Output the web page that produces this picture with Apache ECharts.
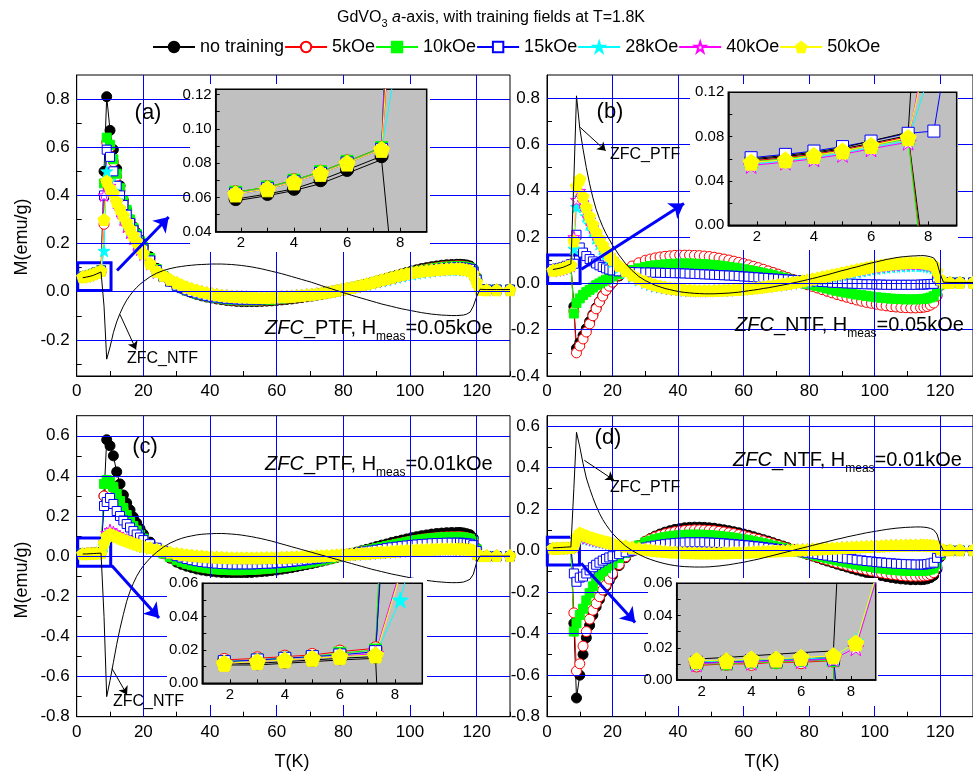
<!DOCTYPE html>
<html>
<head>
<meta charset="utf-8">
<script src="https://cdn.jsdelivr.net/npm/echarts@6/dist/echarts.min.js"></script>
<style>
  html, body { margin: 0; padding: 0; background: #fff; }
  #chart { width: 973px; height: 778px; }
</style>
</head>
<body>
<div id="chart"></div>
<script>
// temperature points (K), shared by every curve
var T = [1.8,3,4,5,6,7.3,8.2,9,10,11,12,13,14,15,16,17,18,19,20,22,24,26,28,
  30,31.5,33,34.5,36,37.5,39,40.5,42,43.5,45,46.5,48,49.5,51,52.5,54,55.5,57,58.5,60,61.5,63,64.5,66,67.5,69,70.5,
  72,73.5,75,76.5,78,79.5,81,82.5,84,85.5,87,88.5,90,91.5,93,94.5,96,97.5,99,100.5,102,103.5,105,106.5,108,109.5,111,112.5,114,
  115,116,117,118,119,120,121,123,126,130];

// (a) ZFC_PTF, Hmeas = 0.05 kOe
var aRef  = [0.058,0.061,0.064,0.068,0.074,0.082,-0.06,-0.28,-0.23,-0.17,-0.125,-0.09,-0.06,-0.035,-0.015,0.003,0.018,0.031,0.042,0.062,0.077,0.088,0.096,
  0.102,0.105,0.108,0.110,0.112,0.113,0.114,0.115,0.115,0.115,0.114,0.113,0.111,0.109,0.106,0.103,0.099,0.095,0.09,0.085,0.08,0.075,0.069,0.063,0.057,0.051,0.045,0.039,0.032,0.025,0.018,0.012,0.005,-0.002,-0.008,-0.015,-0.021,-0.027,-0.033,-0.039,-0.045,-0.051,-0.056,-0.061,-0.066,-0.071,-0.075,-0.079,-0.083,-0.087,-0.09,-0.093,-0.095,-0.097,-0.098,-0.099,-0.099,
  -0.098,-0.097,-0.093,-0.085,-0.06,-0.02,0.01,0.009,0.009,0.009];
var aNone = [0.059,0.062,0.065,0.070,0.076,0.084,0.5,0.81,0.67,0.59,0.51,0.44,0.38,0.34,0.30,0.27,0.245,0.215,0.19,0.145,0.097,0.066,0.044,
  0.025,0.014,0.004,-0.004,-0.011,-0.017,-0.022,-0.026,-0.03,-0.033,-0.036,-0.038,-0.04,-0.041,-0.041,-0.041,-0.041,-0.04,-0.039,-0.038,-0.036,-0.034,-0.032,-0.03,-0.027,-0.024,-0.021,-0.018,-0.014,-0.01,-0.006,-0.002,0.002,0.006,0.011,0.016,0.021,0.026,0.032,0.038,0.044,0.05,0.056,0.062,0.068,0.074,0.08,0.086,0.091,0.096,0.1,0.104,0.107,0.11,0.112,0.113,0.114,
  0.114,0.113,0.111,0.107,0.095,0.06,0.012,0.009,0.009,0.009];
var a5    = [0.063,0.066,0.070,0.075,0.081,0.089,0.28,0.62,0.6,0.54,0.48,0.42,0.37,0.33,0.29,0.26,0.235,0.205,0.18,0.135,0.092,0.064,0.043,
  0.025,0.015,0.005,-0.002,-0.009,-0.014,-0.019,-0.023,-0.027,-0.03,-0.033,-0.035,-0.036,-0.037,-0.037,-0.037,-0.037,-0.036,-0.035,-0.034,-0.032,-0.03,-0.028,-0.026,-0.023,-0.021,-0.018,-0.015,-0.012,-0.009,-0.005,-0.001,0.003,0.007,0.011,0.015,0.02,0.025,0.03,0.035,0.041,0.047,0.053,0.058,0.064,0.07,0.075,0.08,0.085,0.09,0.094,0.098,0.101,0.104,0.106,0.107,0.108,
  0.108,0.107,0.105,0.101,0.09,0.055,0.011,0.009,0.009,0.009];
var a10   = [0.063,0.066,0.070,0.075,0.081,0.089,0.45,0.64,0.61,0.55,0.49,0.43,0.38,0.34,0.3,0.265,0.24,0.21,0.185,0.14,0.094,0.065,0.043,
  0.025,0.015,0.005,-0.002,-0.009,-0.014,-0.019,-0.023,-0.026,-0.029,-0.032,-0.034,-0.035,-0.036,-0.036,-0.036,-0.036,-0.035,-0.034,-0.033,-0.031,-0.029,-0.027,-0.025,-0.022,-0.02,-0.017,-0.014,-0.011,-0.008,-0.004,0.0,0.003,0.007,0.011,0.015,0.02,0.025,0.03,0.035,0.041,0.046,0.052,0.057,0.063,0.068,0.074,0.079,0.084,0.088,0.092,0.096,0.099,0.102,0.104,0.105,0.106,
  0.106,0.105,0.103,0.099,0.088,0.052,0.011,0.009,0.009,0.009];
var a15   = [0.062,0.065,0.069,0.074,0.080,0.088,0.4,0.59,0.56,0.5,0.44,0.4,0.36,0.32,0.285,0.255,0.23,0.2,0.175,0.13,0.09,0.062,0.042,
  0.025,0.015,0.006,-0.001,-0.007,-0.012,-0.017,-0.021,-0.024,-0.027,-0.029,-0.031,-0.032,-0.033,-0.033,-0.033,-0.033,-0.032,-0.031,-0.03,-0.029,-0.027,-0.025,-0.023,-0.021,-0.019,-0.016,-0.013,-0.01,-0.007,-0.003,0.0,0.004,0.008,0.012,0.016,0.02,0.025,0.03,0.035,0.04,0.045,0.05,0.055,0.061,0.066,0.071,0.076,0.08,0.084,0.088,0.091,0.094,0.097,0.099,0.1,0.101,
  0.101,0.1,0.098,0.095,0.084,0.05,0.01,0.009,0.009,0.009];
var a28   = [0.062,0.065,0.069,0.074,0.080,0.088,0.17,0.5,0.46,0.42,0.38,0.345,0.31,0.28,0.25,0.225,0.2,0.18,0.16,0.118,0.082,0.066,0.05,
  0.036,0.027,0.018,0.011,0.005,0.0,-0.005,-0.009,-0.012,-0.015,-0.017,-0.019,-0.02,-0.021,-0.022,-0.023,-0.023,-0.023,-0.023,-0.023,-0.022,-0.021,-0.02,-0.019,-0.017,-0.015,-0.013,-0.011,-0.008,-0.005,-0.002,0.001,0.005,0.009,0.013,0.017,0.021,0.025,0.03,0.035,0.04,0.045,0.05,0.055,0.06,0.065,0.069,0.073,0.077,0.08,0.083,0.086,0.088,0.09,0.091,0.092,0.092,
  0.092,0.091,0.089,0.086,0.075,0.045,0.01,0.008,0.008,0.008];
var a40   = [0.062,0.065,0.069,0.074,0.080,0.088,0.4,0.45,0.44,0.41,0.37,0.335,0.3,0.27,0.245,0.22,0.195,0.175,0.155,0.115,0.08,0.066,0.051,
  0.037,0.028,0.019,0.012,0.006,0.001,-0.004,-0.008,-0.011,-0.014,-0.016,-0.018,-0.019,-0.02,-0.021,-0.022,-0.022,-0.022,-0.022,-0.022,-0.021,-0.02,-0.019,-0.018,-0.016,-0.014,-0.012,-0.01,-0.007,-0.005,-0.002,0.001,0.005,0.009,0.013,0.017,0.022,0.027,0.032,0.037,0.043,0.048,0.054,0.059,0.065,0.07,0.075,0.079,0.082,0.085,0.087,0.089,0.091,0.093,0.094,0.095,0.095,
  0.095,0.093,0.091,0.087,0.075,0.042,0.01,0.008,0.008,0.008];
var a50   = [0.062,0.065,0.069,0.074,0.080,0.088,0.3,0.46,0.43,0.41,0.375,0.345,0.318,0.29,0.262,0.235,0.21,0.183,0.16,0.118,0.085,0.068,0.052,
  0.038,0.029,0.02,0.013,0.007,0.001,-0.004,-0.008,-0.012,-0.015,-0.017,-0.019,-0.02,-0.021,-0.022,-0.023,-0.024,-0.024,-0.024,-0.023,-0.022,-0.021,-0.02,-0.019,-0.017,-0.015,-0.013,-0.011,-0.008,-0.005,-0.002,0.002,0.006,0.01,0.014,0.018,0.023,0.028,0.033,0.038,0.044,0.05,0.055,0.06,0.066,0.071,0.076,0.08,0.083,0.086,0.088,0.09,0.092,0.094,0.095,0.096,0.096,
  0.096,0.094,0.092,0.088,0.075,0.04,0.01,0.008,0.008,0.008];

// (b) ZFC_NTF, Hmeas = 0.05 kOe
var bRef  = [0.06,0.063,0.066,0.07,0.076,0.084,0.45,0.81,0.67,0.58,0.5,0.43,0.37,0.32,0.28,0.245,0.215,0.19,0.165,0.122,0.085,0.055,0.03,
  0.012,0.002,-0.008,-0.015,-0.022,-0.027,-0.032,-0.036,-0.039,-0.041,-0.043,-0.044,-0.045,-0.045,-0.045,-0.044,-0.043,-0.042,-0.04,-0.038,-0.035,-0.032,-0.029,-0.026,-0.022,-0.019,-0.015,-0.011,-0.007,-0.003,0.002,0.006,0.011,0.016,0.021,0.026,0.032,0.037,0.043,0.049,0.055,0.06,0.066,0.071,0.077,0.083,0.088,0.093,0.098,0.103,0.107,0.111,0.114,0.116,0.118,0.119,0.12,
  0.12,0.118,0.115,0.11,0.09,0.04,0.005,0.004,0.004,0.004];
var bNone = [0.059,0.062,0.065,0.069,0.074,0.081,-0.1,-0.28,-0.255,-0.225,-0.195,-0.165,-0.135,-0.105,-0.078,-0.053,-0.03,-0.012,0.004,0.032,0.054,0.07,0.083,
  0.094,0.1,0.104,0.108,0.111,0.113,0.115,0.116,0.117,0.117,0.116,0.115,0.113,0.111,0.108,0.105,0.101,0.097,0.092,0.087,0.082,0.077,0.071,0.065,0.058,0.052,0.045,0.038,0.031,0.024,0.017,0.01,0.003,-0.004,-0.011,-0.018,-0.025,-0.032,-0.038,-0.044,-0.05,-0.056,-0.062,-0.068,-0.073,-0.078,-0.082,-0.086,-0.09,-0.094,-0.097,-0.099,-0.101,-0.102,-0.103,-0.103,-0.102,
  -0.1,-0.097,-0.09,-0.08,-0.05,-0.005,0.005,0.004,0.004,0.004];
var b5    = [0.058,0.061,0.064,0.068,0.073,0.08,-0.12,-0.3,-0.27,-0.24,-0.21,-0.175,-0.14,-0.11,-0.08,-0.055,-0.03,-0.012,0.005,0.035,0.058,0.075,0.089,
  0.1,0.105,0.11,0.114,0.117,0.119,0.121,0.122,0.122,0.122,0.121,0.12,0.118,0.116,0.113,0.109,0.105,0.101,0.096,0.091,0.086,0.08,0.074,0.068,0.061,0.054,0.047,0.04,0.032,0.025,0.017,0.01,0.002,-0.006,-0.013,-0.02,-0.027,-0.034,-0.041,-0.048,-0.054,-0.06,-0.066,-0.072,-0.077,-0.082,-0.086,-0.09,-0.094,-0.097,-0.1,-0.102,-0.104,-0.105,-0.106,-0.106,-0.105,
  -0.103,-0.1,-0.094,-0.085,-0.055,-0.01,0.005,0.004,0.004,0.004];
var b10   = [0.057,0.06,0.063,0.067,0.072,0.078,-0.13,-0.085,-0.065,-0.05,-0.038,-0.028,-0.018,-0.008,0.0,0.008,0.016,0.023,0.03,0.041,0.05,0.058,0.065,
  0.071,0.075,0.078,0.08,0.082,0.084,0.085,0.086,0.086,0.086,0.085,0.084,0.083,0.081,0.079,0.077,0.074,0.071,0.068,0.065,0.061,0.057,0.053,0.049,0.044,0.04,0.035,0.03,0.025,0.02,0.014,0.009,0.004,-0.002,-0.007,-0.012,-0.017,-0.022,-0.027,-0.032,-0.036,-0.04,-0.044,-0.048,-0.051,-0.054,-0.057,-0.06,-0.062,-0.064,-0.066,-0.067,-0.068,-0.069,-0.069,-0.069,-0.068,
  -0.067,-0.065,-0.061,-0.055,-0.035,-0.005,0.004,0.004,0.004,0.004];
var b15   = [0.061,0.064,0.067,0.071,0.076,0.083,0.085,0.21,0.155,0.133,0.118,0.105,0.095,0.086,0.078,0.071,0.065,0.06,0.056,0.052,0.05,0.049,0.048,
  0.047,0.047,0.046,0.046,0.045,0.045,0.044,0.044,0.043,0.042,0.041,0.04,0.039,0.038,0.037,0.036,0.035,0.034,0.033,0.032,0.03,0.029,0.027,0.026,0.024,0.023,0.021,0.02,0.018,0.017,0.015,0.014,0.012,0.011,0.009,0.008,0.006,0.005,0.003,0.002,0.001,0.0,-0.001,-0.002,-0.003,-0.004,-0.004,-0.005,-0.005,-0.006,-0.006,-0.006,-0.006,-0.006,-0.006,-0.006,-0.005,
  -0.005,-0.004,-0.003,-0.002,0.025,0.01,0.004,0.004,0.004,0.004];
var b28   = [0.055,0.058,0.061,0.065,0.07,0.076,0.15,0.33,0.37,0.33,0.29,0.255,0.225,0.195,0.17,0.148,0.128,0.11,0.094,0.068,0.046,0.028,0.014,
  0.003,-0.005,-0.012,-0.016,-0.02,-0.023,-0.026,-0.028,-0.03,-0.031,-0.032,-0.032,-0.032,-0.032,-0.031,-0.03,-0.029,-0.028,-0.026,-0.025,-0.023,-0.021,-0.019,-0.017,-0.015,-0.013,-0.01,-0.008,-0.005,-0.003,0.0,0.003,0.006,0.009,0.013,0.017,0.021,0.025,0.029,0.033,0.037,0.041,0.045,0.049,0.053,0.057,0.06,0.063,0.066,0.069,0.071,0.073,0.074,0.075,0.076,0.076,0.076,
  0.075,0.073,0.07,0.066,0.045,0.015,0.004,0.004,0.004,0.004];
var b40   = [0.054,0.057,0.06,0.064,0.069,0.075,0.2,0.36,0.4,0.35,0.31,0.275,0.242,0.212,0.186,0.162,0.14,0.121,0.104,0.076,0.053,0.034,0.019,
  0.007,-0.001,-0.008,-0.013,-0.018,-0.022,-0.025,-0.027,-0.029,-0.031,-0.032,-0.033,-0.033,-0.033,-0.032,-0.031,-0.03,-0.029,-0.027,-0.026,-0.024,-0.022,-0.02,-0.018,-0.015,-0.013,-0.01,-0.007,-0.004,-0.001,0.002,0.005,0.009,0.013,0.017,0.021,0.025,0.03,0.034,0.038,0.043,0.047,0.052,0.056,0.06,0.064,0.067,0.07,0.073,0.076,0.078,0.08,0.082,0.083,0.084,0.084,0.084,
  0.083,0.081,0.078,0.074,0.05,0.018,0.004,0.004,0.004,0.004];
var b50   = [0.057,0.059,0.063,0.067,0.072,0.079,0.183,0.42,0.45,0.375,0.33,0.29,0.255,0.222,0.193,0.166,0.142,0.122,0.104,0.077,0.055,0.036,0.02,
  0.008,0.001,-0.006,-0.011,-0.016,-0.02,-0.023,-0.025,-0.027,-0.029,-0.03,-0.031,-0.031,-0.031,-0.031,-0.03,-0.029,-0.028,-0.027,-0.026,-0.024,-0.022,-0.02,-0.018,-0.015,-0.012,-0.009,-0.006,-0.003,0.0,0.004,0.007,0.011,0.015,0.019,0.023,0.028,0.032,0.037,0.041,0.046,0.05,0.055,0.06,0.064,0.068,0.072,0.076,0.079,0.082,0.084,0.086,0.088,0.089,0.09,0.09,0.09,
  0.089,0.087,0.084,0.08,0.055,0.02,0.005,0.004,0.004,0.004];

// (c) ZFC_PTF, Hmeas = 0.01 kOe
var cRef  = [0.011,0.011,0.012,0.013,0.014,0.015,-0.3,-0.7,-0.62,-0.53,-0.44,-0.36,-0.29,-0.225,-0.175,-0.135,-0.1,-0.072,-0.048,-0.01,0.02,0.045,0.065,
  0.08,0.089,0.096,0.101,0.106,0.109,0.111,0.112,0.113,0.113,0.112,0.11,0.108,0.105,0.101,0.097,0.092,0.087,0.081,0.075,0.068,0.061,0.054,0.047,0.04,0.033,0.026,0.019,0.012,0.005,-0.002,-0.009,-0.016,-0.023,-0.03,-0.037,-0.044,-0.051,-0.058,-0.065,-0.071,-0.077,-0.083,-0.089,-0.094,-0.099,-0.104,-0.109,-0.113,-0.117,-0.121,-0.124,-0.127,-0.129,-0.131,-0.132,-0.132,
  -0.131,-0.129,-0.123,-0.115,-0.09,-0.03,0.0,0.0,0.0,0.0];
var cNone = [0.012,0.012,0.013,0.014,0.015,0.016,0.3,0.58,0.55,0.5,0.42,0.36,0.305,0.265,0.23,0.195,0.165,0.137,0.11,0.07,0.04,0.015,-0.01,
  -0.03,-0.041,-0.05,-0.057,-0.064,-0.069,-0.073,-0.076,-0.079,-0.081,-0.082,-0.083,-0.083,-0.083,-0.082,-0.081,-0.079,-0.077,-0.075,-0.072,-0.069,-0.065,-0.061,-0.057,-0.052,-0.047,-0.042,-0.037,-0.031,-0.025,-0.019,-0.013,-0.006,0.0,0.007,0.013,0.02,0.027,0.034,0.041,0.048,0.055,0.061,0.068,0.074,0.08,0.086,0.092,0.097,0.102,0.106,0.11,0.113,0.115,0.117,0.118,0.118,
  0.118,0.116,0.112,0.107,0.09,0.04,0.0,0.0,0.0,0.0];
var c5    = [0.014,0.015,0.016,0.017,0.019,0.021,0.3,0.37,0.37,0.34,0.3,0.265,0.232,0.2,0.172,0.147,0.125,0.105,0.087,0.056,0.032,0.012,-0.005,
  -0.02,-0.029,-0.037,-0.044,-0.05,-0.055,-0.059,-0.062,-0.065,-0.067,-0.068,-0.069,-0.069,-0.069,-0.068,-0.067,-0.066,-0.064,-0.062,-0.06,-0.057,-0.054,-0.051,-0.047,-0.043,-0.039,-0.035,-0.031,-0.026,-0.021,-0.016,-0.011,-0.005,0.0,0.006,0.011,0.017,0.023,0.029,0.034,0.04,0.045,0.051,0.056,0.062,0.067,0.072,0.077,0.081,0.085,0.088,0.091,0.094,0.096,0.097,0.098,0.098,
  0.098,0.096,0.093,0.089,0.075,0.035,0.0,0.0,0.0,0.0];
var c10   = [0.013,0.014,0.015,0.016,0.018,0.02,0.36,0.38,0.37,0.345,0.31,0.275,0.24,0.205,0.175,0.15,0.128,0.107,0.088,0.057,0.033,0.013,-0.005,
  -0.02,-0.03,-0.038,-0.045,-0.051,-0.056,-0.06,-0.063,-0.066,-0.068,-0.069,-0.07,-0.07,-0.07,-0.069,-0.068,-0.067,-0.065,-0.063,-0.061,-0.058,-0.055,-0.052,-0.048,-0.044,-0.04,-0.036,-0.031,-0.026,-0.021,-0.016,-0.011,-0.005,0.0,0.006,0.011,0.017,0.023,0.029,0.034,0.04,0.045,0.051,0.056,0.061,0.066,0.071,0.076,0.08,0.084,0.087,0.09,0.092,0.094,0.095,0.096,0.096,
  0.096,0.094,0.091,0.087,0.073,0.034,0.0,0.0,0.0,0.0];
var c15   = [0.013,0.014,0.015,0.016,0.017,0.019,0.25,0.27,0.29,0.26,0.225,0.2,0.178,0.16,0.143,0.125,0.108,0.093,0.08,0.06,0.042,0.026,0.012,
  0.0,-0.007,-0.014,-0.02,-0.025,-0.029,-0.032,-0.035,-0.037,-0.039,-0.04,-0.041,-0.041,-0.041,-0.041,-0.041,-0.04,-0.039,-0.038,-0.037,-0.035,-0.033,-0.031,-0.029,-0.026,-0.023,-0.02,-0.017,-0.014,-0.011,-0.007,-0.004,0.0,0.004,0.008,0.012,0.016,0.02,0.024,0.028,0.032,0.036,0.04,0.044,0.047,0.05,0.053,0.056,0.058,0.06,0.062,0.064,0.065,0.066,0.067,0.067,0.067,
  0.067,0.066,0.064,0.062,0.055,0.025,0.0,0.0,0.0,0.0];
var c28   = [0.012,0.013,0.014,0.015,0.016,0.017,0.05,0.1,0.125,0.115,0.105,0.096,0.088,0.08,0.073,0.066,0.06,0.054,0.049,0.04,0.032,0.025,0.018,
  0.012,0.008,0.005,0.002,-0.001,-0.003,-0.005,-0.007,-0.008,-0.009,-0.01,-0.011,-0.011,-0.011,-0.011,-0.011,-0.011,-0.011,-0.01,-0.01,-0.009,-0.009,-0.008,-0.007,-0.006,-0.005,-0.004,-0.003,-0.002,-0.001,0.0,0.001,0.003,0.005,0.006,0.008,0.009,0.011,0.012,0.014,0.016,0.018,0.019,0.021,0.023,0.025,0.026,0.028,0.029,0.03,0.031,0.032,0.033,0.034,0.034,0.034,0.034,
  0.034,0.033,0.032,0.031,0.027,0.012,0.002,0.002,0.002,0.002];
var c40   = [0.012,0.013,0.014,0.015,0.016,0.018,0.068,0.115,0.13,0.12,0.11,0.1,0.091,0.083,0.075,0.068,0.062,0.056,0.05,0.041,0.033,0.025,0.018,
  0.012,0.008,0.005,0.002,0.0,-0.002,-0.004,-0.006,-0.007,-0.008,-0.009,-0.01,-0.01,-0.01,-0.01,-0.01,-0.01,-0.01,-0.009,-0.009,-0.008,-0.008,-0.007,-0.006,-0.005,-0.004,-0.003,-0.002,-0.001,0.0,0.001,0.002,0.004,0.006,0.007,0.009,0.01,0.012,0.013,0.015,0.017,0.019,0.02,0.022,0.024,0.026,0.027,0.029,0.03,0.031,0.032,0.033,0.034,0.035,0.035,0.035,0.035,
  0.035,0.034,0.033,0.032,0.028,0.012,0.002,0.002,0.002,0.002];
var c50   = [0.012,0.013,0.014,0.015,0.016,0.017,0.065,0.1,0.11,0.104,0.097,0.09,0.083,0.077,0.071,0.065,0.06,0.055,0.05,0.042,0.034,0.027,0.02,
  0.014,0.01,0.007,0.004,0.002,0.0,-0.002,-0.004,-0.005,-0.006,-0.007,-0.008,-0.008,-0.008,-0.008,-0.008,-0.008,-0.008,-0.007,-0.007,-0.006,-0.006,-0.005,-0.004,-0.003,-0.002,-0.001,0.0,0.001,0.002,0.003,0.004,0.006,0.008,0.009,0.011,0.012,0.014,0.015,0.017,0.019,0.021,0.022,0.024,0.026,0.028,0.029,0.031,0.032,0.033,0.034,0.035,0.036,0.037,0.037,0.037,0.037,
  0.037,0.036,0.035,0.034,0.03,0.012,0.003,0.003,0.003,0.003];

// (d) ZFC_NTF, Hmeas = 0.01 kOe
var dRef  = [0.013,0.014,0.015,0.016,0.017,0.018,0.3,0.57,0.5,0.42,0.35,0.3,0.255,0.215,0.18,0.15,0.125,0.103,0.083,0.05,0.022,0.0,-0.018,
  -0.033,-0.042,-0.05,-0.057,-0.063,-0.068,-0.072,-0.075,-0.077,-0.078,-0.079,-0.079,-0.079,-0.078,-0.076,-0.074,-0.071,-0.068,-0.064,-0.06,-0.056,-0.051,-0.046,-0.041,-0.035,-0.029,-0.023,-0.017,-0.011,-0.005,0.001,0.007,0.013,0.019,0.025,0.031,0.037,0.043,0.049,0.055,0.06,0.066,0.071,0.076,0.081,0.086,0.09,0.094,0.098,0.102,0.105,0.108,0.11,0.112,0.113,0.114,0.114,
  0.113,0.111,0.107,0.1,0.08,0.03,0.0,0.0,0.0,0.0];
var dNone = [0.011,0.012,0.012,0.013,0.013,0.014,-0.35,-0.71,-0.6,-0.5,-0.42,-0.36,-0.31,-0.27,-0.235,-0.2,-0.172,-0.145,-0.118,-0.072,-0.034,-0.003,0.024,
  0.045,0.058,0.07,0.08,0.089,0.096,0.102,0.106,0.11,0.112,0.113,0.113,0.112,0.11,0.108,0.104,0.1,0.096,0.091,0.086,0.08,0.074,0.067,0.06,0.053,0.046,0.038,0.03,0.022,0.014,0.006,-0.002,-0.01,-0.018,-0.026,-0.034,-0.042,-0.05,-0.057,-0.065,-0.072,-0.079,-0.086,-0.093,-0.099,-0.105,-0.11,-0.115,-0.12,-0.125,-0.129,-0.133,-0.136,-0.138,-0.14,-0.14,-0.14,
  -0.139,-0.136,-0.13,-0.12,-0.09,-0.03,0.0,0.0,0.0,0.0];
var d5    = [0.009,0.01,0.01,0.011,0.011,0.012,-0.3,-0.58,-0.545,-0.46,-0.39,-0.33,-0.287,-0.255,-0.222,-0.19,-0.165,-0.137,-0.11,-0.067,-0.03,0.0,0.025,
  0.045,0.056,0.066,0.074,0.081,0.086,0.091,0.094,0.097,0.099,0.1,0.1,0.099,0.098,0.096,0.093,0.09,0.086,0.082,0.077,0.072,0.066,0.06,0.054,0.047,0.04,0.033,0.026,0.018,0.011,0.004,-0.003,-0.01,-0.017,-0.024,-0.031,-0.038,-0.045,-0.052,-0.059,-0.065,-0.071,-0.077,-0.083,-0.088,-0.093,-0.098,-0.103,-0.107,-0.111,-0.114,-0.117,-0.12,-0.122,-0.123,-0.123,-0.123,
  -0.122,-0.12,-0.115,-0.106,-0.08,-0.025,0.0,0.0,0.0,0.0];
var d10   = [0.01,0.01,0.011,0.011,0.012,0.012,-0.39,-0.35,-0.31,-0.28,-0.24,-0.205,-0.172,-0.142,-0.12,-0.1,-0.085,-0.072,-0.06,-0.036,-0.012,0.008,0.025,
  0.04,0.048,0.055,0.06,0.065,0.069,0.072,0.074,0.076,0.077,0.077,0.077,0.076,0.075,0.073,0.071,0.068,0.065,0.062,0.058,0.054,0.05,0.045,0.04,0.035,0.03,0.024,0.019,0.013,0.008,0.002,-0.004,-0.009,-0.015,-0.02,-0.026,-0.031,-0.037,-0.042,-0.047,-0.052,-0.057,-0.062,-0.067,-0.071,-0.075,-0.079,-0.083,-0.086,-0.089,-0.092,-0.094,-0.096,-0.097,-0.098,-0.098,-0.098,
  -0.097,-0.095,-0.091,-0.085,-0.065,-0.02,0.0,0.0,0.0,0.0];
var d15   = [0.011,0.011,0.012,0.012,0.013,0.013,-0.11,-0.15,-0.13,-0.125,-0.11,-0.095,-0.08,-0.068,-0.058,-0.048,-0.04,-0.033,-0.027,-0.017,-0.008,0.0,0.008,
  0.015,0.02,0.024,0.028,0.031,0.034,0.036,0.038,0.039,0.04,0.04,0.04,0.04,0.039,0.038,0.037,0.035,0.033,0.031,0.029,0.027,0.025,0.022,0.02,0.017,0.014,0.011,0.008,0.005,0.002,-0.001,-0.004,-0.007,-0.01,-0.014,-0.017,-0.021,-0.024,-0.028,-0.031,-0.035,-0.038,-0.041,-0.044,-0.047,-0.05,-0.052,-0.055,-0.057,-0.059,-0.061,-0.063,-0.064,-0.065,-0.066,-0.067,-0.067,
  -0.067,-0.065,-0.062,-0.058,-0.035,-0.01,0.0,0.0,0.0,0.0];
var d28   = [0.011,0.012,0.012,0.013,0.013,0.014,0.024,0.062,0.065,0.062,0.058,0.054,0.05,0.046,0.043,0.04,0.037,0.034,0.031,0.025,0.02,0.015,0.01,
  0.006,0.003,0.001,-0.001,-0.003,-0.005,-0.006,-0.007,-0.008,-0.009,-0.009,-0.01,-0.01,-0.01,-0.01,-0.01,-0.009,-0.009,-0.008,-0.008,-0.007,-0.006,-0.005,-0.004,-0.003,-0.002,-0.001,0.0,0.001,0.002,0.003,0.004,0.005,0.006,0.007,0.008,0.009,0.01,0.011,0.012,0.014,0.015,0.016,0.017,0.018,0.019,0.02,0.021,0.022,0.022,0.023,0.024,0.024,0.025,0.025,0.025,0.025,
  0.025,0.024,0.023,0.022,0.018,0.008,0.003,0.003,0.003,0.003];
var d40   = [0.01,0.011,0.011,0.012,0.012,0.013,0.02,0.061,0.07,0.066,0.061,0.057,0.053,0.049,0.045,0.042,0.039,0.036,0.033,0.027,0.021,0.016,0.011,
  0.007,0.004,0.001,-0.001,-0.003,-0.005,-0.006,-0.007,-0.008,-0.009,-0.009,-0.01,-0.01,-0.01,-0.01,-0.01,-0.009,-0.009,-0.008,-0.008,-0.007,-0.006,-0.005,-0.004,-0.003,-0.002,-0.001,0.0,0.001,0.002,0.003,0.004,0.005,0.006,0.007,0.008,0.01,0.011,0.012,0.013,0.014,0.015,0.016,0.017,0.018,0.019,0.02,0.021,0.022,0.023,0.024,0.025,0.025,0.026,0.026,0.026,0.026,
  0.026,0.025,0.024,0.023,0.019,0.009,0.003,0.003,0.003,0.003];
var d50   = [0.012,0.012,0.013,0.013,0.014,0.015,0.023,0.064,0.085,0.078,0.072,0.066,0.061,0.056,0.051,0.047,0.043,0.039,0.035,0.028,0.022,0.016,0.011,
  0.006,0.003,0.0,-0.002,-0.004,-0.006,-0.007,-0.008,-0.009,-0.01,-0.01,-0.011,-0.011,-0.011,-0.011,-0.011,-0.01,-0.01,-0.009,-0.009,-0.008,-0.007,-0.006,-0.005,-0.004,-0.003,-0.002,-0.001,0.0,0.001,0.002,0.003,0.004,0.005,0.007,0.008,0.009,0.01,0.012,0.013,0.014,0.015,0.017,0.018,0.019,0.02,0.021,0.022,0.023,0.024,0.025,0.025,0.026,0.026,0.027,0.027,0.027,
  0.027,0.026,0.025,0.024,0.02,0.01,0.004,0.004,0.004,0.004];

var names = ['no training', '5kOe', '10kOe', '15kOe', '28kOe', '40kOe', '50kOe'];

// tick values and tick labels
var xTicks = [0,10,20,30,40,50,60,70,80,90,100,110,120,130];
var xLabels = [0,20,40,60,80,100,120];
var xGridLines = [20,40,60,80,100,120];
var aYTicks = [-0.3,-0.2,-0.1,0,0.1,0.2,0.3,0.4,0.5,0.6,0.7,0.8];
var aYLabels = [-0.2,0,0.2,0.4,0.6,0.8];
var bYTicks = [-0.3,-0.2,-0.1,0,0.1,0.2,0.3,0.4,0.5,0.6,0.7,0.8];
var bYLabels = [-0.4,-0.2,0,0.2,0.4,0.6,0.8];
var cdYTicks = [-0.7,-0.6,-0.5,-0.4,-0.3,-0.2,-0.1,0,0.1,0.2,0.3,0.4,0.5,0.6];
var cdYLabels = [-0.8,-0.6,-0.4,-0.2,0,0.2,0.4,0.6];
var inXTicks = [2,3,4,5,6,7,8];
var inXLabels = [2,4,6,8];
var aInYTicks = [0.05,0.06,0.07,0.08,0.09,0.1,0.11,0.12];
var aInYLabels = [0.04,0.06,0.08,0.1,0.12];
var bInYTicks = [0.02,0.04,0.06,0.08,0.1];
var bInYLabels = [0,0.04,0.08,0.12];
var cdInYTicks = [0.01,0.02,0.03,0.04,0.05];
var cdInYLabels = [0,0.02,0.04,0.06];

var FONT = 'Liberation Sans, Arial, sans-serif';
var STAR = 'path://M50,0L61.2,34.5L97.6,34.5L68.2,55.9L79.4,90.5L50,69.1L20.6,90.5L31.8,55.9L2.4,34.5L38.8,34.5Z';
var PENT = 'path://M50,0L97.6,34.5L79.4,90.5L20.6,90.5L2.4,34.5Z';

var look = [
  { symbol: 'circle', size: 10, line: '#000000', fill: '#000000' },
  { symbol: 'circle', size: 10, line: '#ff0000', fill: '#ffffff' },
  { symbol: 'rect', size: 9, line: '#00ff00', fill: '#00ff00' },
  { symbol: 'rect', size: 9, line: '#0000ff', fill: '#ffffff' },
  { symbol: STAR, size: 12, line: '#00ffff', fill: '#00ffff' },
  { symbol: STAR, size: 12, line: '#ff00ff', fill: '#ffffff' },
  { symbol: PENT, size: 12, line: '#ffff00', fill: '#ffff00' }
];

var panels = [
  { sets: [aNone, a5, a10, a15, a28, a40, a50], ref: aRef,
    left: 76.7, top: 75, ymin: -0.35, ymax: 0.9, yTicks: aYTicks, yLabels: aYLabels,
    inset: { left: 215.7, top: 89.3, width: 211, height: 142.4, xmin: 1.05, xmax: 9, ymin: 0.04, ymax: 0.123, yTicks: aInYTicks, yLabels: aInYLabels },
    box: [[0.3, 0.005], [10.3, 0.12]], arrow: [[12.1, 0.088], [27.6, 0.31]], tag: [[13, -0.095], [17.8, -0.24]] },
  { sets: [bNone, b5, b10, b15, b28, b40, b50], ref: bRef,
    left: 547, top: 75, ymin: -0.4, ymax: 0.9, yTicks: bYTicks, yLabels: bYLabels,
    inset: { left: 728.3, top: 92.3, width: 228.4, height: 133, xmin: 1, xmax: 9, ymin: 0, ymax: 0.12, yTicks: bInYTicks, yLabels: bInYLabels },
    box: [[0.2, 0.0], [10.1, 0.123]], arrow: [[10.5, 0.061], [41.8, 0.345]], tag: [[10.1, 0.674], [17.9, 0.573]] },
  { sets: [cNone, c5, c10, c15, c28, c40, c50], ref: cRef,
    left: 76.7, top: 415.7, ymin: -0.8, ymax: 0.7, yTicks: cdYTicks, yLabels: cdYLabels,
    inset: { left: 202.3, top: 583.3, width: 220, height: 100, xmin: 1, xmax: 9, ymin: 0, ymax: 0.06, yTicks: cdInYTicks, yLabels: cdInYLabels },
    box: [[0.3, -0.05], [10.2, 0.09]], arrow: [[10.5, -0.046], [24.7, -0.308]], tag: [[10.6, -0.56], [15.1, -0.69]] },
  { sets: [dNone, d5, d10, d15, d28, d40, d50], ref: dRef,
    left: 547, top: 415.7, ymin: -0.8, ymax: 0.65, yTicks: cdYTicks, yLabels: cdYLabels,
    inset: { left: 676.7, top: 583.3, width: 199, height: 96.7, xmin: 1, xmax: 9, ymin: 0, ymax: 0.06, yTicks: cdInYTicks, yLabels: cdInYLabels },
    box: [[0.1, -0.069], [9.9, 0.064]], arrow: [[10.4, -0.061], [26.9, -0.346]], tag: [[11.4, 0.435], [20.4, 0.34]] }
];

// flag any array whose length does not match T
var badArrays = [];
panels.forEach(function (p, k) {
  p.sets.concat([p.ref]).forEach(function (a, s) {
    if (a.length !== T.length) badArrays.push('abcd'[k] + s + ':' + a.length);
  });
});

function pts(vals) {
  return T.map(function (t, i) { return [t, vals[i]]; });
}

var grids = [], xAxes = [], yAxes = [], series = [];

panels.forEach(function (p, k) {
  var gm = 2 * k, gi = 2 * k + 1;
  var ins = p.inset;

  grids.push({ left: p.left, top: p.top, width: 433.3, height: 301, show: true,
    borderColor: '#000', borderWidth: 1, backgroundColor: 'rgba(0,0,0,0)' });
  grids.push({ left: ins.left, top: ins.top, width: ins.width, height: ins.height, show: true, z: 10,
    borderColor: '#000', borderWidth: 1.5, backgroundColor: '#c0c0c0' });

  xAxes.push({ gridIndex: gm, type: 'value', min: 0, max: 130,
    axisLine: { show: true, onZero: false, lineStyle: { color: '#000', width: 1 } },
    axisTick: { show: true, inside: true, length: 5, customValues: xTicks, lineStyle: { color: '#000' } },
    axisLabel: { customValues: xLabels, color: '#000', fontSize: 17, margin: 7, fontFamily: FONT },
    splitLine: { show: false } });
  yAxes.push({ gridIndex: gm, type: 'value', min: p.ymin, max: p.ymax,
    axisLine: { show: true, onZero: false, lineStyle: { color: '#000', width: 1 } },
    axisTick: { show: true, inside: true, length: 5, customValues: p.yTicks, lineStyle: { color: '#000' } },
    axisLabel: { customValues: p.yLabels, color: '#000', fontSize: 17, margin: 7, fontFamily: FONT,
      formatter: function (v) { return (+v).toFixed(1); } },
    splitLine: { show: false } });

  xAxes.push({ gridIndex: gi, type: 'value', min: ins.xmin, max: ins.xmax, z: 11,
    axisLine: { show: true, onZero: false, lineStyle: { color: '#000', width: 1.5 } },
    axisTick: { show: true, inside: true, length: 4, customValues: inXTicks, lineStyle: { color: '#000' } },
    axisLabel: { customValues: inXLabels, color: '#000', fontSize: 15, margin: 4, fontFamily: FONT },
    splitLine: { show: false } });
  yAxes.push({ gridIndex: gi, type: 'value', min: ins.ymin, max: ins.ymax, z: 11,
    axisLine: { show: true, onZero: false, lineStyle: { color: '#000', width: 1.5 } },
    axisTick: { show: true, inside: true, length: 4, customValues: ins.yTicks, lineStyle: { color: '#000' } },
    axisLabel: { customValues: ins.yLabels, color: '#000', fontSize: 15, margin: 4, fontFamily: FONT,
      formatter: function (v) { return (+v).toFixed(2); } },
    splitLine: { show: false } });

  // blue grid lines of the main panel
  series.push({ type: 'line', xAxisIndex: gm, yAxisIndex: gm, data: [], z: 1, silent: true,
    markLine: { silent: true, symbol: 'none', label: { show: false },
      lineStyle: { color: '#0000ff', width: 1, type: 'solid' },
      data: xGridLines.map(function (v) { return { xAxis: v }; })
        .concat(p.yLabels.filter(function (v) { return v > p.ymin; }).map(function (v) { return { yAxis: v }; })) } });

  [gm, gi].forEach(function (g, j) {
    p.sets.forEach(function (vals, s) {
      var L = look[s];
      series.push({ name: names[s], type: 'line', xAxisIndex: g, yAxisIndex: g, data: pts(vals),
        symbol: L.symbol, symbolSize: j ? Math.round(L.size * 1.3) : L.size, showAllSymbol: true,
        itemStyle: { color: L.fill, borderColor: L.line, borderWidth: 1 },
        lineStyle: { color: L.line, width: 1 }, z: j ? 12 : 2, emphasis: { disabled: true } });
    });
    series.push({ type: 'line', xAxisIndex: g, yAxisIndex: g, data: pts(p.ref), symbol: 'none',
      lineStyle: { color: '#000', width: 1 }, z: j ? 12 : 3, silent: true });
  });

  // zoom box, blue arrow and the thin black pointer
  series.push({ type: 'line', xAxisIndex: gm, yAxisIndex: gm, data: [], z: 5, silent: true,
    markArea: { silent: true, itemStyle: { color: 'rgba(0,0,0,0)', borderColor: '#0000ff', borderWidth: 3 },
      data: [[{ coord: p.box[0] }, { coord: p.box[1] }]] },
    markLine: { silent: true, symbol: ['none', 'arrow'], symbolSize: 14, label: { show: false },
      lineStyle: { color: '#0000ff', width: 3, type: 'solid' },
      data: [[{ coord: p.arrow[0] }, { coord: p.arrow[1] }]] } });
  series.push({ type: 'line', xAxisIndex: gm, yAxisIndex: gm, data: [], z: 5, silent: true,
    markLine: { silent: true, symbol: ['none', 'arrow'], symbolSize: 8, label: { show: false },
      lineStyle: { color: '#000', width: 1, type: 'solid' },
      data: [[{ coord: p.tag[0] }, { coord: p.tag[1] }]] } });
});

function txt(x, y, text, size, extra) {
  var el = { type: 'text', x: x, y: y, z: 20, silent: true,
    style: { text: text, fontSize: size, fontFamily: FONT, fill: '#000', align: 'left', verticalAlign: 'middle' } };
  if (extra) { for (var key in extra) el.style[key] = extra[key]; }
  return el;
}

var condRich = {
  n: { fontSize: 20, fontFamily: FONT, fill: '#000', lineHeight: 20 },
  i: { fontSize: 20, fontFamily: FONT, fill: '#000', fontStyle: 'italic', lineHeight: 20 },
  s: { fontSize: 12, fontFamily: FONT, fill: '#000', lineHeight: 12, padding: [18, 0, 0, 0] }
};
function cond(x, baseline, text) {
  return { type: 'text', x: x, y: baseline - 22, z: 20, silent: true,
    style: { text: text, rich: condRich, align: 'left', verticalAlign: 'top' } };
}

var whiteRects = [
  [190, 84, 240, 168],
  [690, 84, 268, 166],
  [167, 578, 260, 127],
  [648, 578, 230, 128]
].map(function (r) {
  return { type: 'rect', z: 9, silent: true, shape: { x: r[0], y: r[1], width: r[2], height: r[3] }, style: { fill: '#ffffff' } };
});

var labels = [
  { type: 'text', x: 491, y: 10, z: 20, silent: true,
    style: { text: '{n|GdVO}{s|3}{n| }{i|a}{n|-axis, with training fields at T=1.8K}', align: 'center', verticalAlign: 'top',
      rich: {
        n: { fontSize: 16, fontFamily: FONT, fill: '#000', lineHeight: 16 },
        i: { fontSize: 16, fontFamily: FONT, fill: '#000', fontStyle: 'italic', lineHeight: 16 },
        s: { fontSize: 11, fontFamily: FONT, fill: '#000', lineHeight: 11, padding: [12, 0, 0, 0] }
      } } },
  txt(148, 113, '(a)', 22, { align: 'center' }),
  txt(610, 112, '(b)', 22, { align: 'center' }),
  txt(145, 447, '(c)', 22, { align: 'center' }),
  txt(608, 438, '(d)', 22, { align: 'center' }),
  cond(265, 340, '{i|ZFC}{n|_PTF, H}{s|meas}{n|=0.05kOe}'),
  cond(735, 337, '{i|ZFC}{n|_NTF, H}{s|meas}{n|=0.05kOe}'),
  cond(265, 476, '{i|ZFC}{n|_PTF, H}{s|meas}{n|=0.01kOe}'),
  cond(733, 472, '{i|ZFC}{n|_NTF, H}{s|meas}{n|=0.01kOe}'),
  txt(127, 359, 'ZFC_NTF', 16),
  txt(610, 155, 'ZFC_PTF', 16),
  txt(113, 702, 'ZFC_NTF', 16),
  txt(610, 488, 'ZFC_PTF', 16),
  txt(22, 237, 'M(emu/g)', 18, { align: 'center' }),
  txt(22, 580, 'M(emu/g)', 18, { align: 'center' }),
  txt(292, 762, 'T(K)', 18, { align: 'center' }),
  txt(762, 762, 'T(K)', 18, { align: 'center' })
];
labels[13].rotation = Math.PI / 2;
labels[14].rotation = Math.PI / 2;
if (badArrays.length) labels.push(txt(300, 395, 'LENGTH ' + badArrays.join(' '), 14, { fill: '#f00' }));

var chart = echarts.init(document.getElementById('chart'));
chart.setOption({
  animation: false,
  backgroundColor: '#ffffff',
  legend: {
    data: names, top: 38, left: 152, itemWidth: 42, itemHeight: 13, itemGap: 0, padding: 0,
    textStyle: { fontSize: 18, color: '#000', fontFamily: FONT }, selectedMode: false
  },
  grid: grids,
  xAxis: xAxes,
  yAxis: yAxes,
  series: series,
  graphic: { elements: whiteRects.concat(labels) }
});
</script>
</body>
</html>
